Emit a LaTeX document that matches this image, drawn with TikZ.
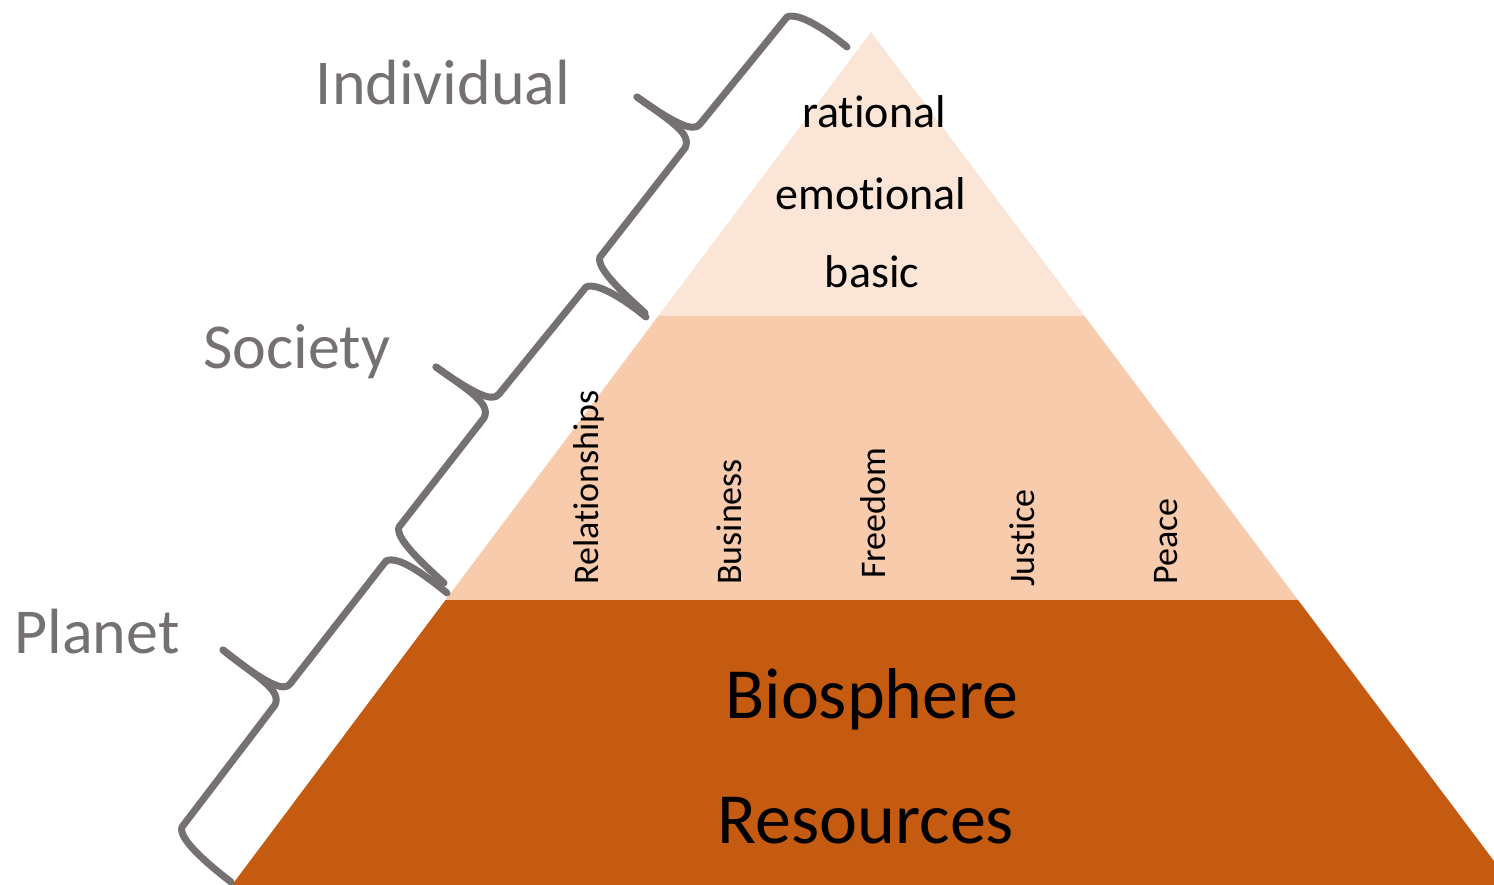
\documentclass[tikz,border=0pt]{standalone}
\usepackage{fontspec}
\setmainfont{Carlito}[Ligatures=NoCommon]
\definecolor{toplayer}{HTML}{FBE5D6}
\definecolor{midlayer}{HTML}{F8CBAD}
\definecolor{botlayer}{HTML}{C55A11}
\definecolor{bracegray}{HTML}{767171}
\begin{document}
\begin{tikzpicture}[x=1pt,y=-1pt,
  bracestyle/.style={draw=bracegray,line width=7pt,line cap=round,line join=round},
  sidelabel/.style={text=bracegray,font=\fontsize{64}{77}\selectfont,inner sep=0pt,anchor=base},
  needlabel/.style={text=black,font=\fontsize{46}{55}\selectfont,inner sep=0pt,anchor=base},
  baselabel/.style={text=black,font=\fontsize{72}{86}\selectfont,inner sep=0pt,anchor=base},
  vertlabel/.style={text=black,font=\fontsize{36}{43}\selectfont,inner sep=0pt,rotate=90,anchor=base west}]
\useasboundingbox (0,0) rectangle (1494,885);
\begin{scope}
\clip (0,0) rectangle (1494,885);
\fill[toplayer] (871,32) -- (1084.5,316) -- (658.3,316) -- cycle;
\fill[midlayer] (658.3,316) -- (1084.5,316) -- (1298,600) -- (445.5,600) -- cycle;
\fill[botlayer] (445.5,600) -- (1298,600) -- (1512,885) -- (232,885) -- cycle;
\end{scope}
% braces
\draw[bracestyle] (847,47) .. controls (825,29) and (798,12) .. (787,17) -- (700,124) .. controls (694,132) and (678,126) .. (637,97);
\draw[bracestyle] (637,97) .. controls (672,122) and (692,134) .. (685,148) -- (600,257) .. controls (596,268) and (622,292) .. (645,313);
\draw[bracestyle] (646,317) .. controls (624,299) and (597,282) .. (586,287) -- (499,394) .. controls (493,402) and (477,396) .. (436,367);
\draw[bracestyle] (436,367) .. controls (471,392) and (491,404) .. (484,418) -- (399,527) .. controls (395,538) and (421,562) .. (444,583);
\draw[bracestyle] (447,593) .. controls (425,575) and (398,555) .. (386,561) -- (290,684) .. controls (284,692) and (266,684) .. (223,650);
\draw[bracestyle] (223,650) .. controls (258,678) and (282,690) .. (275,705) -- (182,827) .. controls (178,838) and (205,862) .. (231,882);
% side labels
\node[sidelabel] (individual) at (443,105) {Individual};
\node[sidelabel] (society) at (297,368) {Society};
\node[sidelabel] (planet) at (97,653) {Planet};
% top layer
\node[needlabel] (rational) at (874,128) {rational};
\node[needlabel] (emotional) at (871,210) {emotional};
\node[needlabel] (basic) at (872,288) {basic};
% middle layer
\node[vertlabel] (relationships) at (598,585) {Relationships};
\node[vertlabel] (business) at (741,585) {Business};
\node[vertlabel] (freedom) at (885,579) {Freedom};
\node[vertlabel] (justice) at (1034,587) {Justice};
\node[vertlabel] (peace) at (1177,585) {Peace};
% bottom layer
\node[baselabel] (biosphere) at (872,718) {Biosphere};
\node[baselabel] (resources) at (866,843) {Resources};
\end{tikzpicture}
\end{document}
